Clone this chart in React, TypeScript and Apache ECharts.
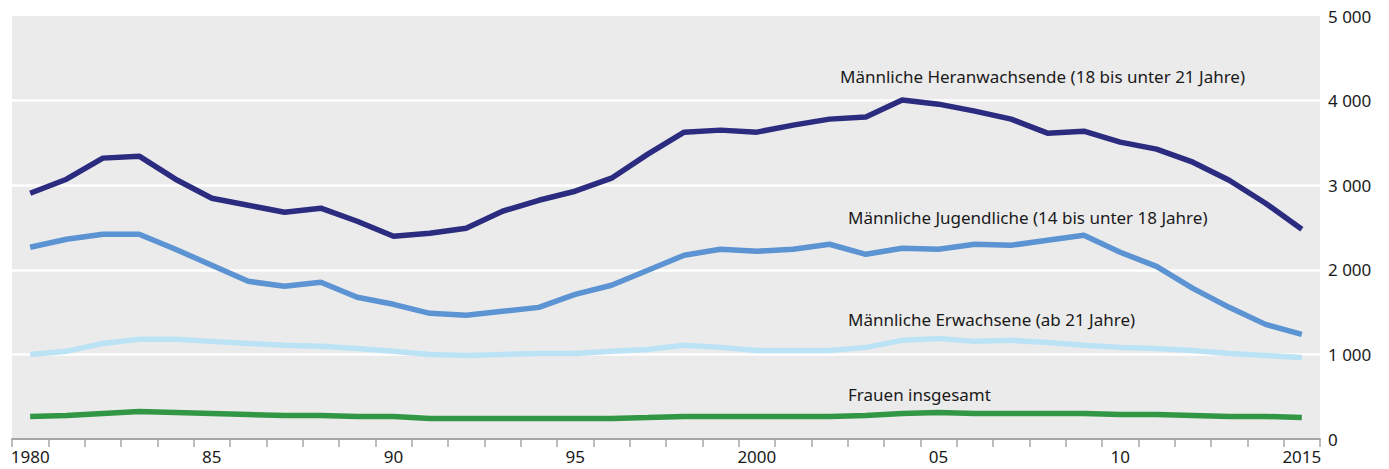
import React, { useEffect, useRef } from "react";
import * as echarts from "echarts";

const years: string[] = [];
for (let y = 1980; y <= 2015; y++) years.push(String(y));

const yearLabels: Record<string, string> = {
  "1980": "1980", "1985": "85", "1990": "90", "1995": "95",
  "2000": "2000", "2005": "05", "2010": "10", "2015": "2015",
};

const heranwachsende = [
  2905, 3071, 3320, 3343, 3071, 2846, 2763, 2680, 2728, 2574,
  2396, 2431, 2491, 2692, 2822, 2929, 3083, 3367, 3627, 3651,
  3627, 3710, 3781, 3805, 4006, 3958, 3876, 3781, 3615, 3639,
  3509, 3426, 3272, 3059, 2787, 2479,
];
const jugendliche = [
  2266, 2361, 2420, 2420, 2243, 2053, 1864, 1805, 1852, 1675,
  1592, 1485, 1462, 1509, 1556, 1710, 1817, 1994, 2172, 2243,
  2219, 2243, 2302, 2183, 2254, 2243, 2302, 2290, 2349, 2408,
  2207, 2041, 1781, 1556, 1355, 1237,
];
const erwachsene = [
  1000, 1036, 1130, 1178, 1178, 1154, 1130, 1107, 1095, 1071,
  1036, 1000, 988, 1000, 1012, 1012, 1036, 1059, 1107, 1083,
  1047, 1047, 1047, 1083, 1166, 1189, 1154, 1166, 1142, 1107,
  1083, 1071, 1047, 1012, 988, 964,
];
const frauen = [
  266, 278, 302, 325, 314, 302, 290, 278, 278, 266,
  266, 243, 243, 243, 243, 243, 243, 254, 266, 266,
  266, 266, 266, 278, 302, 314, 302, 302, 302, 302,
  290, 290, 278, 266, 266, 254,
];

const seriesNames = [
  "Männliche Heranwachsende (18 bis unter 21 Jahre)",
  "Männliche Jugendliche (14 bis unter 18 Jahre)",
  "Männliche Erwachsene (ab 21 Jahre)",
  "Frauen insgesamt",
];
const colors = ["#2B2C80", "#5B93D3", "#BCE3F5", "#329745"];
const FONT = "'Noto Sans', sans-serif";

export default function App() {
  const ref = useRef<HTMLDivElement>(null);
  useEffect(() => {
    if (!ref.current) return;
    const chart = echarts.init(ref.current, undefined, { renderer: "svg" });
    const data = [heranwachsende, jugendliche, erwachsene, frauen];
    const labelPos = [
      [840, 76],
      [848, 217],
      [848, 319],
      [848, 394],
    ];
    chart.setOption({
      animation: false,
      grid: {
        left: 12,
        right: 69,
        top: 16,
        bottom: 30,
        show: true,
        backgroundColor: "#EBEBEB",
        borderWidth: 0,
      },
      xAxis: {
        type: "category",
        data: years,
        boundaryGap: true,
        axisLine: { show: true, lineStyle: { color: "#A6A6A6", width: 2 } },
        axisTick: { show: true, length: 8, lineStyle: { color: "#A6A6A6", width: 1.5 }, interval: 0 },
        axisLabel: {
          interval: 0,
          color: "#1a1a1a",
          fontFamily: FONT,
          fontSize: 17,
          margin: 9,
          formatter: (v: string) => yearLabels[v] ?? "",
        },
        splitLine: { show: false },
      },
      yAxis: {
        type: "value",
        position: "right",
        min: 0,
        max: 5000,
        interval: 1000,
        axisLine: { show: false },
        axisTick: { show: false },
        axisLabel: {
          color: "#1a1a1a",
          fontFamily: FONT,
          fontSize: 17,
          margin: 8,
          align: "left",
          formatter: (v: number) =>
            String(v).replace(/\B(?=(\d{3})+(?!\d))/g, " "),
        },
        splitLine: {
          show: true,
          lineStyle: { color: "#FFFFFF", width: 2.5 },
          showMinLine: false,
          showMaxLine: false,
        },
      },
      graphic: seriesNames.map((name, i) => ({
        type: "text",
        x: labelPos[i][0],
        y: labelPos[i][1],
        style: {
          text: name,
          fill: "#1a1a1a",
          font: `17px ${FONT}`,
          textVerticalAlign: "middle",
        },
        z: 10,
      })),
      series: data.map((d, i) => ({
        name: seriesNames[i],
        type: "line",
        data: d,
        symbol: "none",
        lineStyle: { color: colors[i], width: 5.5 },
        z: 5 - i,
      })),
    });
    return () => chart.dispose();
  }, []);
  return (
    <div
      ref={ref}
      style={{ position: "absolute", left: 0, top: 0, width: 1389, height: 469 }}
    />
  );
}
